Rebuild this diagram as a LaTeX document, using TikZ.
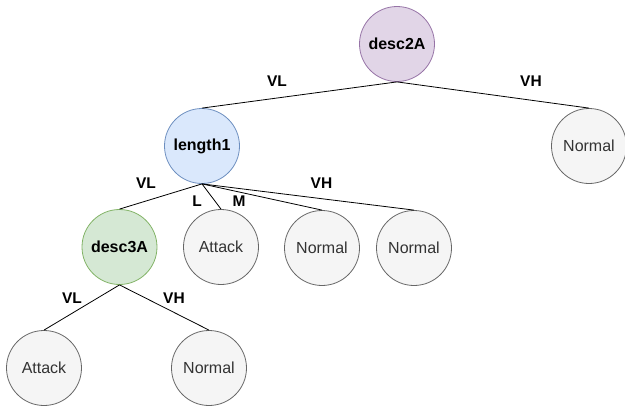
\documentclass[tikz,border=0pt]{standalone}
\usepackage{fontspec}
\setmainfont{Liberation Sans}
\definecolor{leaffill}{HTML}{F5F5F5}
\definecolor{leafline}{HTML}{666666}
\definecolor{leaftext}{HTML}{333333}
\definecolor{purpfill}{HTML}{E1D5E7}
\definecolor{purpline}{HTML}{9673A6}
\definecolor{bluefill}{HTML}{DAE8FC}
\definecolor{blueline}{HTML}{6C8EBF}
\definecolor{greenfill}{HTML}{D5E8D4}
\definecolor{greenline}{HTML}{82B366}
\tikzset{
  base/.style={circle, minimum size=75pt, inner sep=0pt, line width=0.8pt, font=\fontsize{16}{19}\selectfont},
  leaf/.style={base, draw=leafline, fill=leaffill, text=leaftext},
  decA/.style={base, draw=purpline, fill=purpfill, font=\fontsize{16}{19}\selectfont\bfseries},
  decB/.style={base, draw=blueline, fill=bluefill, font=\fontsize{16}{19}\selectfont\bfseries},
  decC/.style={base, draw=greenline, fill=greenfill, font=\fontsize{16}{19}\selectfont\bfseries},
  edgelbl/.style={font=\fontsize{15.5}{18}\selectfont\bfseries, inner sep=0pt},
  conn/.style={line width=0.8pt, black}
}
\begin{document}
\begin{tikzpicture}[x=1pt,y=-1pt]
\useasboundingbox (0,0) rectangle (625,410);
\node[decA] (d2) at (397,44) {desc2A};
\node[decB] (l1) at (202,146) {length1};
\node[leaf] (n0) at (589,146) {Normal};
\node[decC] (d3) at (119.5,247) {desc3A};
\node[leaf] (a1) at (221,247) {Attack};
\node[leaf] (n1) at (322,248) {Normal};
\node[leaf] (n2) at (414,248) {Normal};
\node[leaf] (a2) at (44,368) {Attack};
\node[leaf] (n3) at (209,368) {Normal};
\draw[conn] (d2.south) -- (l1.north);
\draw[conn] (d2.south) -- (n0.north);
\draw[conn] (l1.south) -- (d3.north);
\draw[conn] (l1.south) -- (a1.north);
\draw[conn] (l1.south) -- (n1.north);
\draw[conn] (l1.south) -- (n2.north);
\draw[conn] (d3.south) -- (a2.north);
\draw[conn] (d3.south) -- (n3.north);
\node[edgelbl] (t1) at (277,81) {VL};
\node[edgelbl] (t2) at (531,81) {VH};
\node[edgelbl] (t3) at (146,183) {VL};
\node[edgelbl] (t4) at (197,201) {L};
\node[edgelbl] (t5) at (239,201) {M};
\node[edgelbl] (t6) at (321.5,183) {VH};
\node[edgelbl] (t7) at (72,298) {VL};
\node[edgelbl] (t8) at (174,298) {VH};
\end{tikzpicture}
\end{document}
